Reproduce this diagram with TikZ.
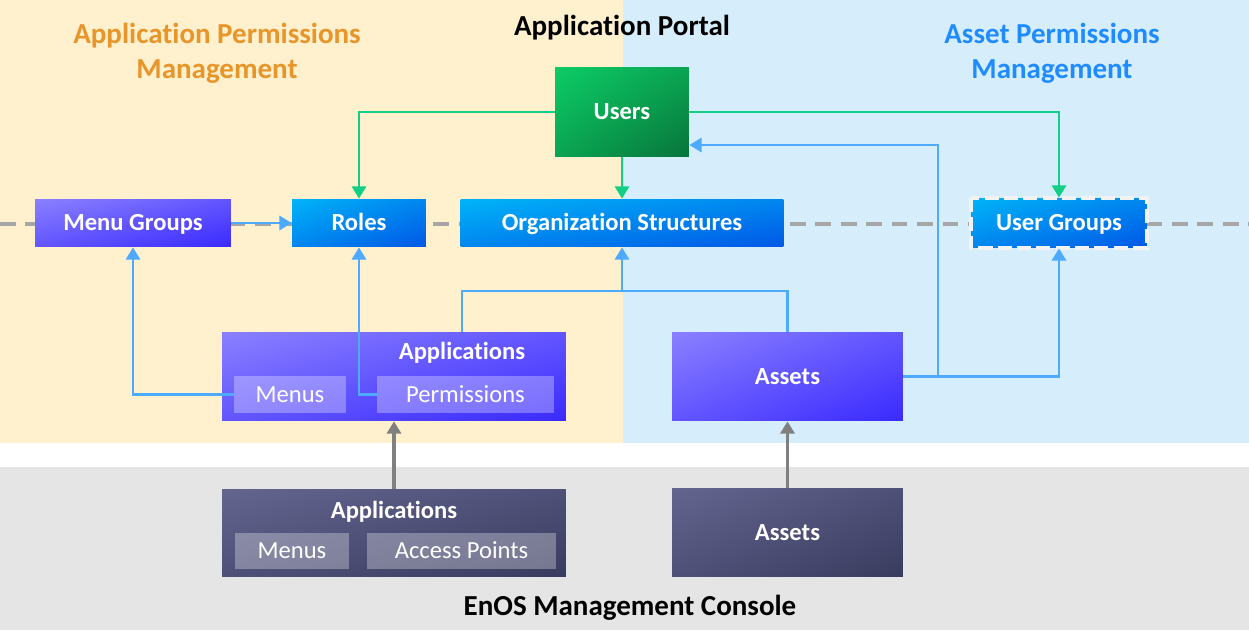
\documentclass[tikz,border=0pt]{standalone}
\usepackage{fontspec}
\setmainfont{Carlito}[Ligatures=NoCommon]
\usetikzlibrary{arrows.meta,positioning,shadings}
\definecolor{PortalSand}{HTML}{FFF0CE}
\definecolor{PortalSky}{HTML}{D6EDFB}
\definecolor{ConsoleGray}{HTML}{E5E5E5}
\definecolor{AppOrange}{HTML}{E8952A}
\definecolor{AssetBlue}{HTML}{1E8BFF}
\definecolor{LinkGreen}{HTML}{12CF85}
\definecolor{LinkBlue}{HTML}{4DAAFF}
\definecolor{LinkGray}{HTML}{808080}
\definecolor{DashGray}{HTML}{A6A6A6}
\definecolor{EdgeWhite}{HTML}{F2F2F2}
\definecolor{GreenA}{HTML}{0CCC66}
\definecolor{GreenB}{HTML}{0AA452}
\definecolor{GreenC}{HTML}{07743A}
\definecolor{BlueA}{HTML}{00B4F8}
\definecolor{BlueB}{HTML}{0086EF}
\definecolor{BlueC}{HTML}{0058E6}
\definecolor{PurpleA}{HTML}{8A80FF}
\definecolor{PurpleB}{HTML}{6255FF}
\definecolor{PurpleC}{HTML}{3A2AFF}
\definecolor{SlateA}{HTML}{63658F}
\definecolor{SlateB}{HTML}{4E5077}
\definecolor{SlateC}{HTML}{393B5E}
\tikzset{
  box/.style={inner sep=0pt, text height=9pt, text depth=0pt, text=white,
    font=\fontsize{14}{16}\selectfont\bfseries},
  greenbox/.style={box, upper left=GreenA, lower right=GreenC,
    upper right=GreenB, lower left=GreenB},
  bluebox/.style={box, upper left=BlueA, lower right=BlueC,
    upper right=BlueB, lower left=BlueB},
  purplebox/.style={box, upper left=PurpleA, lower right=PurpleC,
    upper right=PurpleB, lower left=PurpleB},
  slatebox/.style={box, upper left=SlateA, lower right=SlateC,
    upper right=SlateB, lower left=SlateB},
  subbox/.style={inner sep=0pt, text height=9pt, text depth=0pt, fill=white,
    fill opacity=0.3, text opacity=1, text=white, font=\fontsize{14}{16}\selectfont},
  lbl/.style={font=\fontsize{16.5}{20}\selectfont\bfseries, align=center},
  greenlink/.style={draw=LinkGreen, line width=1.7pt, -{Triangle[length=7pt,width=8pt]}},
  bluelink/.style={draw=LinkBlue, line width=1.7pt, -{Triangle[length=7pt,width=8pt]}},
  graylink/.style={draw=LinkGray, line width=2.2pt, -{Triangle[length=7pt,width=8pt]}},
}
\begin{document}
\begin{tikzpicture}[x=0.02cm, y=-0.02cm]
  \useasboundingbox (0,0) rectangle (1249,642);
  % backgrounds
  \fill[white] (0,0) rectangle (1249,642);
  \fill[PortalSand] (0,0) rectangle (623,443);
  \fill[PortalSky] (623,0) rectangle (1249,443);
  \fill[ConsoleGray] (0,467) rectangle (1249,630);
  \draw[DashGray, line width=2.3pt, dash pattern=on 9pt off 5.5pt]
    (0,224) -- (1249,224);

  % titles
  \node[lbl] (portal) at (622,28) {Application Portal};
  \node[lbl, text=AppOrange] (apptitle) at (217,53) {Application Permissions\\Management};
  \node[lbl, text=AssetBlue] (assettitle) at (1052,53) {Asset Permissions\\Management};
  \node[lbl] (console) at (630,608) {EnOS Management Console};

  % portal nodes
  \node[greenbox, minimum width=2.68cm, minimum height=1.8cm] (users) at (622,112) {Users};
  \node[purplebox, minimum width=3.92cm, minimum height=0.96cm] (mgroups) at (133,223) {Menu Groups};
  \node[bluebox, minimum width=2.68cm, minimum height=0.96cm] (roles) at (359,223) {Roles};
  \node[bluebox, minimum width=6.46cm, minimum height=0.96cm] (org) at (622,223) {Organization Structures};
  \node[bluebox, minimum width=3.5cm, minimum height=1.0cm] (ugroups) at (1059,223) {User Groups};
  \draw[EdgeWhite, line width=2.2pt, dash pattern=on 8pt off 3pt]
    (ugroups.north west) rectangle (ugroups.south east);

  \node[purplebox, minimum width=6.88cm, minimum height=1.78cm] (apps) at (394,376.5) {};
  \node[box] (appslbl) at (462,352) {Applications};
  \node[subbox, minimum width=2.24cm, minimum height=0.74cm] (menus) at (290,394.5) {Menus};
  \node[subbox, minimum width=3.54cm, minimum height=0.74cm] (perms) at (465.5,394.5) {Permissions};
  \node[purplebox, minimum width=4.62cm, minimum height=1.78cm] (assets) at (787.5,376.5) {Assets};

  % console nodes
  \node[slatebox, minimum width=6.88cm, minimum height=1.76cm] (appsc) at (394,533) {};
  \node[box] (appsclbl) at (394,511) {Applications};
  \node[subbox, minimum width=2.28cm, minimum height=0.72cm] (menusc) at (292,551) {Menus};
  \node[subbox, minimum width=3.78cm, minimum height=0.72cm] (access) at (461.5,551) {Access Points};
  \node[slatebox, minimum width=4.62cm, minimum height=1.78cm] (assetsc) at (787.5,532.5) {Assets};

  % connectors
  \draw[greenlink] (users.west) -| (roles.north);
  \draw[greenlink] (users.east) -| (ugroups.north);
  \draw[greenlink] (users.south) -- (org.north);
  \draw[bluelink] (mgroups.east) -- (roles.west);
  \draw[bluelink] (menus.west) -| (mgroups.south);
  \draw[bluelink] (perms.west) -| (roles.south);
  \coordinate (orgjoin) at (622,291);
  \draw[bluelink, -] (apps.north -| appslbl) |- (orgjoin);
  \draw[bluelink, -] (assets.north) |- (orgjoin);
  \draw[bluelink] (orgjoin) -- (org.south);
  \coordinate (usertap) at (938,145);
  \draw[bluelink] (assets.east) -| (usertap) -- (usertap -| users.east);
  \draw[bluelink] (assets.east) -| (ugroups.south);
  \draw[graylink] (appsc.north) -- (apps.south);
  \draw[graylink] (assetsc.north) -- (assets.south);
\end{tikzpicture}
\end{document}
